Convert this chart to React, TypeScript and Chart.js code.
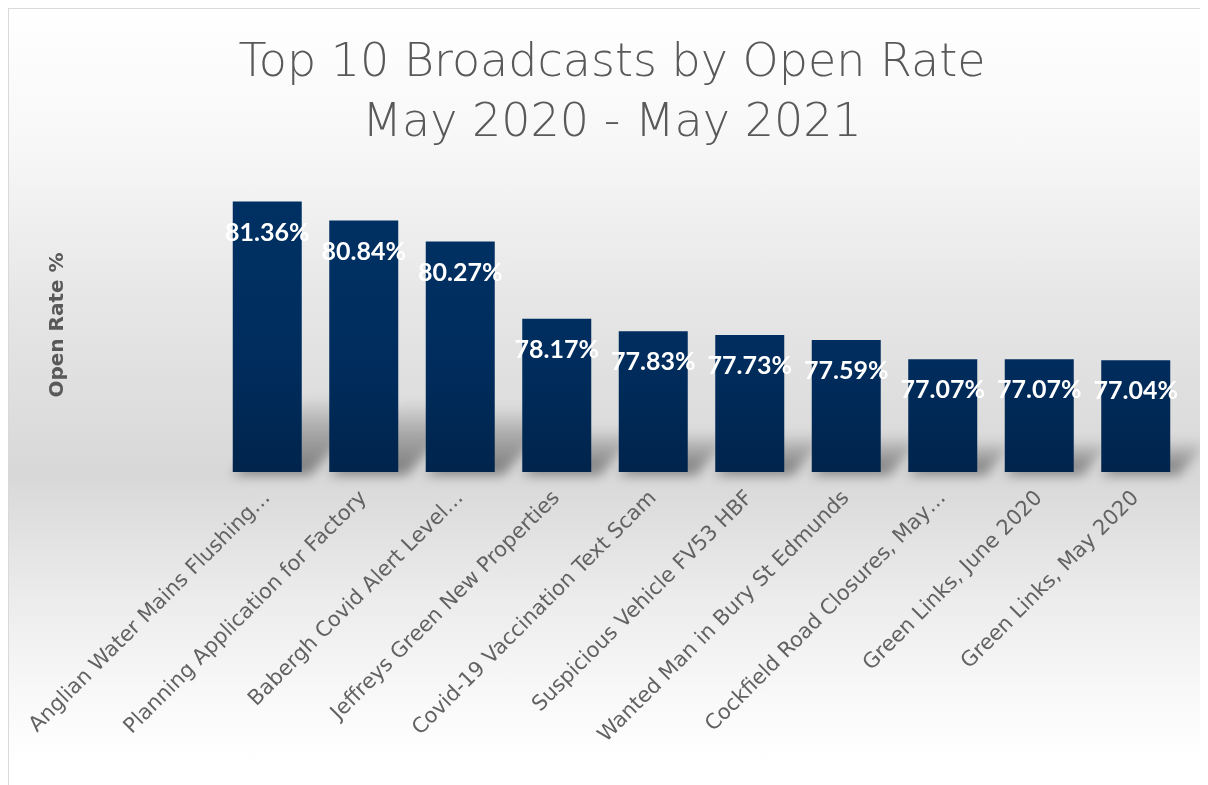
import React, { useEffect, useRef } from "react";
import { Chart, registerables } from "chart.js";

Chart.register(...registerables);

const categories: string[] = [
  "Anglian Water Mains Flushing…",
  "Planning Application for Factory",
  "Babergh Covid Alert Level…",
  "Jeffreys Green New Properties",
  "Covid-19 Vaccination Text Scam",
  "Suspicious Vehicle FV53 HBF",
  "Wanted Man in Bury St Edmunds",
  "Cockfield Road Closures, May…",
  "Green Links, June 2020",
  "Green Links, May 2020",
];

const openRates: number[] = [81.36, 80.84, 80.27, 78.17, 77.83, 77.73, 77.59, 77.07, 77.07, 77.04];

const titleLines: string[] = ["Top 10 Broadcasts by Open Rate", "May 2020 - May 2021"];
const yAxisTitle = "Open Rate %";

const WIDE = "'Century Gothic', 'DejaVu Sans', sans-serif";
const LABEL = "'Century Gothic', Lato, sans-serif";

const shadowPlugin = {
  id: "barShadow",
  beforeDatasetsDraw(chart: any) {
    const ctx = chart.ctx;
    const meta = chart.getDatasetMeta(0);
    const base = chart.chartArea.bottom;
    ctx.save();
    ctx.filter = "blur(6px)";
    meta.data.forEach((bar: any) => {
      const p = bar.getProps(["x", "y", "width"], true);
      const half = p.width / 2;
      const h = (base - p.y) * 0.27;
      const dx = h * 1.0;
      const g = ctx.createLinearGradient(0, base, 0, base - h);
      g.addColorStop(0, "rgba(0,0,0,0.42)");
      g.addColorStop(0.6, "rgba(0,0,0,0.22)");
      g.addColorStop(1, "rgba(0,0,0,0.03)");
      ctx.fillStyle = g;
      ctx.beginPath();
      ctx.moveTo(p.x - half, base + 3);
      ctx.lineTo(p.x + half + 8, base + 3);
      ctx.lineTo(p.x + half + dx + 8, base - h);
      ctx.lineTo(p.x - half + dx, base - h);
      ctx.closePath();
      ctx.fill();
    });
    ctx.restore();
  },
};

const labelPlugin = {
  id: "barLabels",
  afterDatasetsDraw(chart: any) {
    const ctx = chart.ctx;
    const meta = chart.getDatasetMeta(0);
    const data = chart.data.datasets[0].data as number[];
    ctx.save();
    ctx.fillStyle = "#ffffff";
    ctx.font = `bold 25px ${LABEL}`;
    ctx.textAlign = "center";
    ctx.textBaseline = "middle";
    meta.data.forEach((bar: any, i: number) => {
      ctx.fillText(data[i].toFixed(2) + "%", bar.x, bar.y + 31);
    });
    ctx.restore();
  },
};

export default function App() {
  const canvasRef = useRef<HTMLCanvasElement | null>(null);

  useEffect(() => {
    if (!canvasRef.current) return;
    const chart = new Chart(canvasRef.current, {
      type: "bar",
      data: {
        labels: categories,
        datasets: [
          {
            data: openRates,
            backgroundColor: (c: any) => {
              const area = c.chart.chartArea;
              if (!area) return "#002b5c";
              const g = c.chart.ctx.createLinearGradient(0, area.top, 0, area.bottom);
              g.addColorStop(0, "#003164");
              g.addColorStop(0.6, "#002d5e");
              g.addColorStop(1, "#00244c");
              return g;
            },
            borderWidth: 0,
            categoryPercentage: 1,
            barPercentage: 0.715,
          },
        ],
      },
      options: {
        animation: false,
        responsive: true,
        maintainAspectRatio: false,
        layout: { padding: { left: 31, right: 24, top: 0, bottom: 0 } },
        plugins: {
          legend: { display: false },
          tooltip: { enabled: false },
          title: {
            display: true,
            text: titleLines,
            color: "#595959",
            font: { family: WIDE, size: 46, weight: 200, lineHeight: 1.304 },
            padding: { top: 25, bottom: 24 },
          },
        },
        scales: {
          x: {
            grid: { display: false },
            border: { display: false },
            ticks: {
              autoSkip: false,
              maxRotation: 45,
              minRotation: 45,
              color: "#626262",
              font: { family: WIDE, size: 21, weight: "normal" },
              padding: 6,
            },
            afterFit: (scale: any) => {
              scale.height = 313;
            },
          },
          y: {
            min: 74,
            max: 82,
            grid: { display: false },
            border: { display: false },
            ticks: { display: false },
            title: {
              display: true,
              text: yAxisTitle,
              color: "#595959",
              font: { family: WIDE, size: 20, weight: "bold" },
              padding: { top: 6, bottom: 0 },
            },
            afterFit: (scale: any) => {
              scale.width = 179;
            },
          },
        },
      },
      plugins: [shadowPlugin, labelPlugin],
    });
    return () => chart.destroy();
  }, []);

  return (
    <div
      style={{
        width: 1200,
        height: 777,
        boxSizing: "border-box",
        borderTop: "1px solid #d9d9d9",
        borderLeft: "1px solid #d9d9d9",
        background:
          "linear-gradient(to bottom, #ffffff 0%, #f7f7f7 18%, #e6e6e6 38%, #d8d8d8 60%, #ececec 76%, #f8f8f8 88%, #ffffff 97%)",
        position: "relative",
      }}
    >
      <canvas ref={canvasRef} />
    </div>
  );
}
